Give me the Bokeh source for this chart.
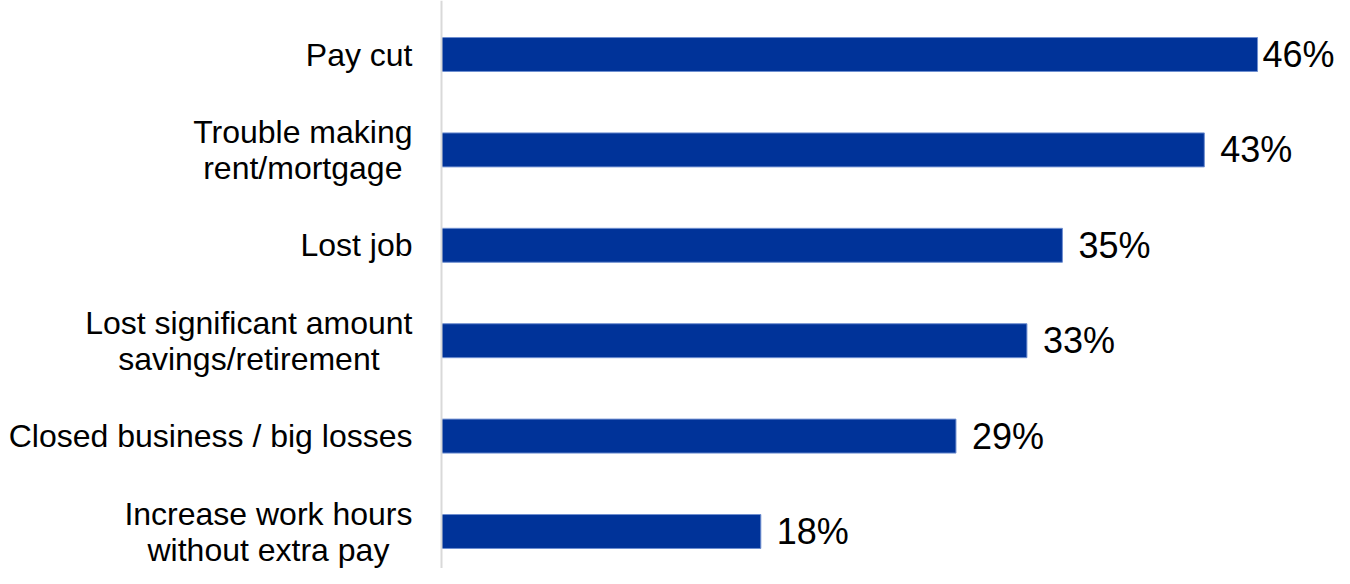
from bokeh.plotting import figure
from bokeh.models import ColumnDataSource, Span
from bokeh.core.properties import value
from bokeh.embed import file_html
from bokeh.resources import INLINE

categories = [
    "Pay cut",
    "Trouble making\nrent/mortgage",
    "Lost job",
    "Lost significant amount\nsavings/retirement",
    "Closed business / big losses",
    "Increase work hours\nwithout extra pay",
]
values = [46, 43, 35, 33, 29, 18]
value_labels = [f"{v}%" for v in values]

n = len(categories)
ypos = [n - 1 - i for i in range(n)]
offsets = [5 if v > 45 else 16 for v in values]

src = ColumnDataSource(dict(y=ypos, v=values, cat=categories, lab=value_labels,
                            zero=[0] * n, off=offsets))

W, H = 1334, 568
px_per_unit = 17.74
x0_px = 441
row_px = 95.4
top_px = 54
p = figure(width=W, height=H, output_backend="svg", toolbar_location=None,
           x_range=(-x0_px / px_per_unit, (W - x0_px) / px_per_unit),
           y_range=((n - 1) - (H - top_px) / row_px, (n - 1) + top_px / row_px),
           min_border=0, min_border_left=0, min_border_right=0,
           min_border_top=0, min_border_bottom=0)
p.axis.visible = False
p.grid.visible = False
p.outline_line_color = None
p.background_fill_color = "white"
p.border_fill_color = "white"

p.hbar(y="y", left=0, right="v", height=0.356, source=src,
       fill_color="#003399", line_color="#6f8fd0", line_width=1)

p.add_layout(Span(location=0, dimension="height", line_color="#d9d9d9", line_width=2))

p.text(x="zero", y="y", text="cat", source=src, x_offset=-29,
       anchor="center_right", text_align="center", text_baseline="middle",
       text_font=value("Liberation Sans"), text_font_size="32px",
       text_color="black", text_line_height=1.0)

p.text(x="v", y="y", text="lab", source=src, x_offset="off",
       text_align="left", text_baseline="middle",
       text_font=value("Liberation Sans"), text_font_size="36px",
       text_color="black")

open("out.html", "w").write(file_html(p, INLINE))
